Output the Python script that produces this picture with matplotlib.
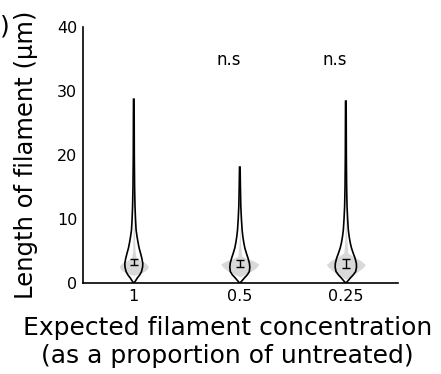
import matplotlib
matplotlib.use("Agg")
import matplotlib.pyplot as plt
import numpy as np

# categories on the x axis
categories = ["1", "0.5", "0.25"]

# measured violin (black outline): heights (um) and half-widths (px at 106 px per category)
outline_y = {
    "1":    [0, 0.3, 0.8, 1.3, 1.8, 2.5, 3.1, 3.9, 4.7, 5.5, 6.3, 7.3, 8.3, 10, 12, 15, 20, 25, 28.7],
    "0.5":  [0, 0.3, 0.8, 1.3, 1.8, 2.5, 3.1, 3.9, 4.7, 5.5, 6.3, 7.3, 8.3, 10, 12, 15, 18.1],
    "0.25": [0, 0.3, 0.8, 1.3, 1.8, 2.5, 3.1, 3.9, 4.7, 5.5, 6.3, 7.3, 8.3, 10, 12, 15, 20, 25, 28.4],
}
outline_w = {
    "1":    [0, 1.5, 3.5, 6, 7.7, 8.8, 9, 8, 6.7, 5.3, 4.3, 3.2, 2.3, 1.7, 1.2, 0.8, 0.5, 0.4, 0.3],
    "0.5":  [0, 1.8, 4.5, 7.5, 9.5, 10, 9.6, 8.2, 6.5, 5, 4, 3, 2.3, 1.6, 1.0, 0.6, 0.3],
    "0.25": [0, 1.8, 4.5, 7.5, 9.8, 10.7, 10.5, 9.2, 7.3, 5.6, 4.4, 3.3, 2.5, 1.8, 1.2, 0.8, 0.5, 0.4, 0.3],
}

# expected violin (grey fill)
grey_y = {
    "1":    [1.2, 1.6, 2.1, 2.6, 3.1, 3.5, 3.9, 5, 8, 12],
    "0.5":  [1.0, 1.5, 2.0, 2.5, 3.0, 3.5, 3.9, 4.2, 6, 9],
    "0.25": [0.6, 1.2, 1.8, 2.4, 2.9, 3.5, 4.1, 4.7, 7, 12],
}
grey_w = {
    "1":    [0, 8, 13, 14.7, 12, 7, 2.5, 1.2, 0.6, 0],
    "0.5":  [0, 7, 13, 17, 19, 13, 6, 2, 0.8, 0],
    "0.25": [0, 6, 12, 17, 19.5, 15, 8, 2, 0.8, 0],
}

# mean and error of measured lengths
means = [3.3, 3.1, 3.0]
errors = [0.4, 0.55, 0.7]

# significance labels
sig_labels = ["", "n.s", "n.s"]

px_per_cat = 106.0

fig = plt.figure(figsize=(4.41, 3.74), dpi=100)
ax = fig.add_axes([0.188, 0.243, 0.714, 0.685])

for i, c in enumerate(categories):
    gy = np.array(grey_y[c])
    gw = np.array(grey_w[c]) / px_per_cat
    ax.fill_betweenx(gy, i - gw, i + gw, color="#d9d9d9", lw=0, zorder=1)

    oy = np.array(outline_y[c])
    ow = np.array(outline_w[c]) / px_per_cat
    ax.plot(i - ow, oy, color="black", lw=1.2, zorder=2)
    ax.plot(i + ow, oy, color="black", lw=1.2, zorder=2)

    ax.errorbar(i, means[i], yerr=errors[i], color="black", lw=1.0,
                capsize=3, capthick=1.0, zorder=3)

    if sig_labels[i]:
        ax.text(i - 0.1, 34.8, sig_labels[i], ha="center", va="center", fontsize=12)

ax.set_xlim(-0.48, 2.49)
ax.set_ylim(0, 40)
ax.set_xticks(range(len(categories)))
ax.set_xticklabels(categories)
ax.set_yticks([0, 10, 20, 30, 40])
ax.tick_params(axis="both", length=0, labelsize=11.5, pad=4)
ax.spines["top"].set_visible(False)
ax.spines["right"].set_visible(False)
ax.spines["left"].set_linewidth(1.2)
ax.spines["bottom"].set_linewidth(1.2)

ax.set_ylabel("Length of filament (\u03bcm)", fontsize=17.5)
ax.yaxis.set_label_coords(-0.142, 0.5)
ax.set_xlabel("Expected filament concentration\n(as a proportion of untreated)",
              fontsize=18)
ax.xaxis.set_label_coords(0.459, -0.13)
ax.xaxis.label.set_va("top")

fig.text(0.0, 0.93, ")", fontsize=18, ha="left", va="center")

fig.savefig("out.png", dpi=100)
